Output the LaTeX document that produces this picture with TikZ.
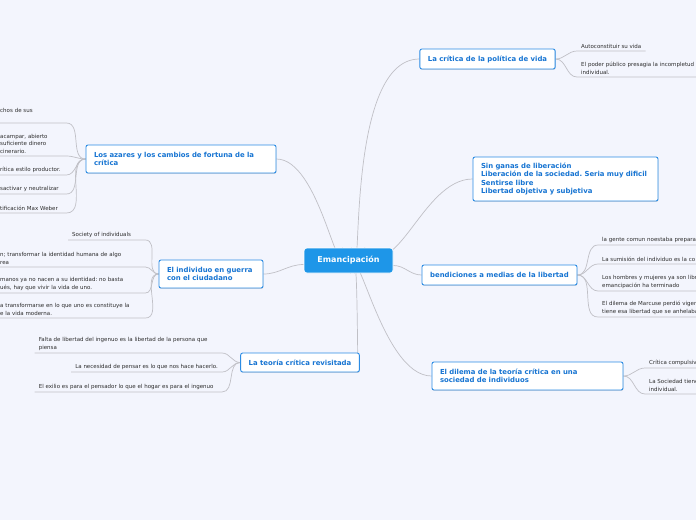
\documentclass[tikz,border=0pt]{standalone}
\usepackage{fontspec}
\setmainfont{DejaVu Sans}
\frenchspacing
\usetikzlibrary{positioning, shadows, backgrounds}
\definecolor{bgc}{RGB}{243,245,253}
\definecolor{tblue}{RGB}{44,140,228}
\definecolor{ttext}{RGB}{22,116,210}
\definecolor{emfill}{RGB}{30,150,232}
\definecolor{lgray}{RGB}{192,192,198}
\definecolor{ltext}{RGB}{45,45,45}

\begin{document}
\begin{tikzpicture}[x=1pt, y=-1pt,
    topic/.style={draw=tblue, fill=white, line width=0.9pt, rounded corners=2pt, text=ttext,
        font=\fontsize{6.9}{8.5}\selectfont\bfseries, inner xsep=8pt, inner ysep=3pt,
        drop shadow={shadow xshift=0.4pt, shadow yshift=-0.9pt, opacity=0.25}},
    root/.style={fill=emfill, draw=white, line width=0.6pt, rounded corners=3pt, text=white,
        font=\fontsize{8}{9}\selectfont\bfseries, minimum width=89pt, minimum height=25pt},
    leaf/.style={font=\fontsize{5.5}{7.6}\selectfont, text=ltext, align=left, inner xsep=4pt, inner ysep=2.5pt},
    conn/.style={draw=lgray, line width=0.7pt}
]
\useasboundingbox (0,0) rectangle (696,520);
\clip (0,0) rectangle (696,520);

\node[root] (em) at (348.5,260.5) {Emancipación};

\node[topic, minimum width=135pt, minimum height=20pt] (vida) at (487.5,59) {La crítica de la política de vida};
\node[topic, text width=169pt, align=left, minimum height=44pt] (ganas) at (565.5,179) {Sin ganas de liberación\\Liberación de la sociedad. Seria muy dificil\\Sentirse libre\\Libertad objetiva y subjetiva};
\node[topic, minimum width=155pt, minimum height=20pt] (bend) at (499.5,275) {bendiciones a medias de la libertad};
\node[topic, text width=175pt, align=left, minimum height=28pt] (dilema) at (527.5,376) {El dilema de la teoría crítica en una\\sociedad de individuos};
\node[topic, text width=174pt, align=left, minimum height=28pt] (azar) at (181,159) {Los azares y los cambios de fortuna de la\\crítica};
\node[topic, text width=88pt, align=left, minimum height=28pt] (guerra) at (211,274) {El individuo en guerra\\con el ciudadano};
\node[topic, minimum width=118pt, minimum height=19pt] (revis) at (300,362.5) {La teoría crítica revisitada};

\node[leaf, anchor=south west] (v1) at (577,51) {Autoconstituir su vida};
\node[leaf, anchor=south west, text width=140pt] (v2) at (577,77) {El poder público presagia la incompletud\\individual.};

\node[leaf, anchor=south west, text width=130pt] (c1) at (598,245) {la gente comun noestaba preparada};
\node[leaf, anchor=south west, text width=130pt] (c2) at (598,264) {La sumisión del individuo es la co};
\node[leaf, anchor=south west, text width=130pt] (c3) at (598,291) {Los hombres y mujeres ya son libres\\emancipación ha terminado};
\node[leaf, anchor=south west, text width=130pt] (c4) at (598,317) {El dilema de Marcuse perdió vigencia\\tiene esa libertad que se anhelaba};

\node[leaf, anchor=south west, text width=80pt] (d1) at (645,368) {Crítica compulsiva};
\node[leaf, anchor=south west, text width=80pt] (d2) at (645,394) {La Sociedad tiene\\individual.};

\node[leaf, anchor=south west, text width=62pt] (e1) at (-4,123) {chos de sus\\\mbox{}};
\node[leaf, anchor=south west, text width=62pt] (e2) at (-4,156) {acampar, abierto\\suficiente dinero\\cinerario.};
\node[leaf, anchor=south west, text width=62pt] (e3) at (-4,175) {rítica estilo productor.};
\node[leaf, anchor=south west, text width=62pt] (e4) at (-4,194) {sactivar y neutralizar};
\node[leaf, anchor=south west, text width=62pt] (e5) at (-4,213) {tificación Max Weber};

\node[leaf, anchor=south west, text width=69pt] (f1) at (68,240) {Society of individuals};
\node[leaf, anchor=south west, text width=141pt] (f2) at (-4,267) {n; transformar la identidad humana de algo\\rea};
\node[leaf, anchor=south west, text width=141pt] (f3) at (-4,293) {manos ya no nacen a su identidad: no basta\\ués, hay que vivir la vida de uno.};
\node[leaf, anchor=south west, text width=141pt] (f4) at (-4,318) {a transformarse en lo que uno es constituye la\\e la vida moderna.};

\node[leaf, anchor=south east, text width=179pt] (g1) at (222,353) {Falta de libertad del ingenuo es la libertad de la persona que\\piensa};
\node[leaf, anchor=south east] (g2) at (222,372) {La necesidad de pensar es lo que nos hace hacerlo.};
\node[leaf, anchor=south east, text width=179pt] (g3) at (222,392) {El exilio es para el pensador lo que el hogar es para el ingenuo};

\begin{scope}[on background layer]
\clip (0,0) rectangle (696,520);
\fill[bgc] (0,0) rectangle (696,520);
\draw[conn] ([xshift=-6pt]em.north) to[out=-95,in=0] (azar.east);
\draw[conn] ([xshift=3pt]em.north) to[out=-80,in=180] (vida.west);
\draw[conn] ([xshift=16pt]em.north) to[out=-50,in=180] (ganas.west);
\draw[conn] ([yshift=-5pt]em.east) to[out=0,in=180] (bend.west);
\draw[conn] ([yshift=-4pt]em.west) to[out=180,in=0] (guerra.east);
\draw[conn] ([xshift=2pt]em.south) to[out=85,in=180] (dilema.west);
\draw[conn] ([xshift=6pt]em.south) to[out=85,in=-90] ([xshift=-2pt]revis.north east);

\draw[conn] (vida.east) to[out=0,in=180] (v1.south west) -- (v1.south east);
\draw[conn] (vida.east) to[out=0,in=180] (v2.south west) -- (v2.south east);

\draw[conn] (bend.east) to[out=0,in=180] (c1.south west) -- (c1.south east);
\draw[conn] (bend.east) to[out=0,in=180] (c2.south west) -- (c2.south east);
\draw[conn] (bend.east) to[out=0,in=180] (c3.south west) -- (c3.south east);
\draw[conn] (bend.east) to[out=0,in=180] (c4.south west) -- (c4.south east);

\draw[conn] (dilema.east) to[out=0,in=180] (d1.south west) -- (d1.south east);
\draw[conn] (dilema.east) to[out=0,in=180] (d2.south west) -- (d2.south east);

\draw[conn] (azar.west) to[out=180,in=0] (e1.south east) -- (e1.south west);
\draw[conn] (azar.west) to[out=180,in=0] (e2.south east) -- (e2.south west);
\draw[conn] (azar.west) to[out=180,in=0] (e3.south east) -- (e3.south west);
\draw[conn] (azar.west) to[out=180,in=0] (e4.south east) -- (e4.south west);
\draw[conn] (azar.west) to[out=180,in=0] (e5.south east) -- (e5.south west);

\draw[conn] (guerra.west) to[out=180,in=0] (f1.south east) -- (f1.south west);
\draw[conn] (guerra.west) to[out=180,in=0] (f2.south east) -- (f2.south west);
\draw[conn] (guerra.west) to[out=180,in=0] (f3.south east) -- (f3.south west);
\draw[conn] (guerra.west) to[out=180,in=0] (f4.south east) -- (f4.south west);

\draw[conn] (revis.west) to[out=180,in=0] (g1.south east) -- (g1.south west);
\draw[conn] (revis.west) to[out=180,in=0] (g2.south east) -- (g2.south west);
\draw[conn] (revis.west) to[out=180,in=0] (g3.south east) -- (g3.south west);
\end{scope}
\end{tikzpicture}
\end{document}
